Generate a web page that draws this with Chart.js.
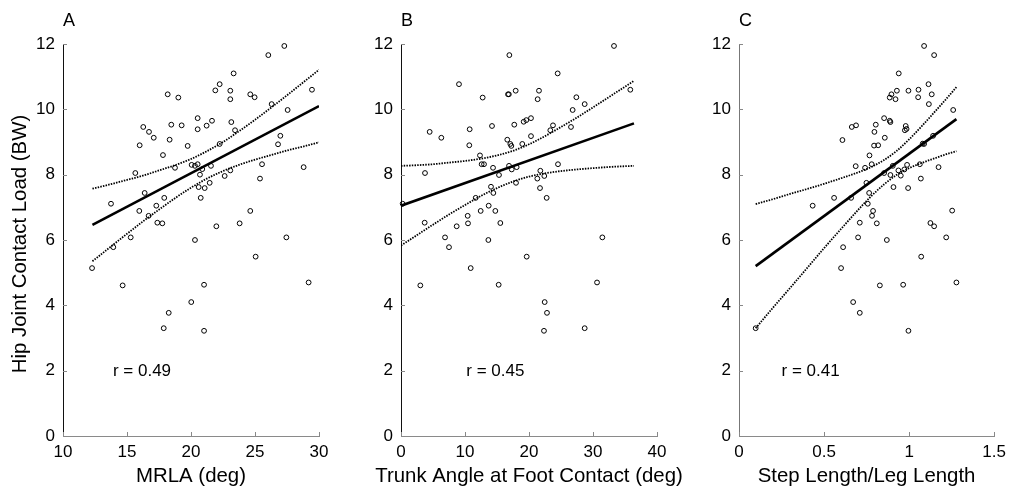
<!DOCTYPE html>
<html>
<head>
<meta charset="utf-8">
<script src="https://cdn.jsdelivr.net/npm/chart.js@4.4.1/dist/chart.umd.min.js"></script>
<style>
  body { margin: 0; background: #fff; }
  #wrap { position: relative; width: 1012px; height: 491px; overflow: hidden; }
  canvas { position: absolute; top: 0; }
</style>
</head>
<body>
<div id="wrap">
  <canvas id="panelA" width="345" height="491" style="left:0px"></canvas>
  <canvas id="panelB" width="345" height="491" style="left:345px"></canvas>
  <canvas id="panelC" width="322" height="491" style="left:690px"></canvas>
</div>
<script>
// hip joint contact load (BW), same subjects in every panel
var loadA = [11.94, 11.66, 11.10, 10.77, 10.58, 10.57, 10.31, 10.46, 10.36, 10.46, 10.37, 10.60, 10.16, 9.98, 9.73, 9.46, 9.31, 9.13, 9.53, 9.51, 9.39, 9.50, 9.65, 9.61, 9.36, 9.07, 8.90, 8.88, 8.94, 9.19, 8.93, 8.60, 8.21, 8.30, 8.27, 8.32, 8.17, 8.00, 8.27, 8.13, 7.96, 8.32, 7.88, 8.23, 8.05, 7.62, 7.59, 7.75, 7.29, 7.44, 7.29, 7.11, 6.89, 7.05, 6.74, 6.53, 6.51, 6.42, 6.51, 6.89, 6.08, 6.00, 6.08, 5.78, 5.14, 4.61, 5.49, 4.70, 4.63, 4.10, 3.77, 3.30, 3.22];
var mrla = [27.29, 26.04, 23.33, 22.24, 21.90, 23.07, 23.07, 18.18, 19.01, 24.63, 24.97, 29.45, 26.30, 27.55, 20.52, 16.27, 16.72, 17.09, 18.46, 19.27, 20.52, 21.22, 21.64, 23.15, 23.44, 18.33, 15.99, 19.74, 22.24, 26.98, 26.80, 17.81, 18.75, 20.05, 20.31, 20.52, 20.88, 20.70, 21.56, 23.07, 22.63, 25.55, 25.39, 28.80, 15.65, 20.60, 21.07, 21.46, 20.76, 16.38, 17.91, 13.75, 15.96, 17.29, 16.69, 17.37, 17.76, 21.98, 23.80, 24.63, 15.29, 20.31, 27.45, 13.93, 12.27, 14.66, 25.05, 29.19, 21.02, 20.02, 18.26, 17.87, 21.02];

var loadB = [11.94, 11.66, 11.10, 10.77, 10.36, 10.46, 10.46, 10.57, 10.57, 10.31, 10.37, 10.16, 9.98, 10.60, 9.73, 9.67, 9.62, 9.53, 9.49, 9.39, 9.31, 9.13, 9.51, 9.36, 9.46, 9.18, 9.07, 8.94, 8.88, 8.94, 8.90, 8.59, 8.32, 8.32, 8.21, 8.27, 8.16, 8.23, 7.99, 8.32, 8.12, 7.88, 7.96, 7.75, 7.59, 7.29, 7.63, 7.44, 7.29, 7.05, 6.89, 6.89, 6.74, 6.51, 6.42, 6.52, 6.53, 8.05, 7.11, 6.08, 6.00, 6.08, 5.78, 4.61, 5.14, 5.49, 4.63, 4.10, 3.77, 3.22, 3.30, 4.70];
var trunkAngle = [33.28, 16.93, 24.48, 9.06, 12.76, 16.72, 16.85, 17.92, 21.56, 21.35, 27.40, 28.70, 26.82, 35.83, 20.31, 19.58, 19.17, 17.70, 14.22, 10.73, 4.48, 6.30, 23.75, 23.33, 26.56, 20.31, 16.61, 17.08, 17.24, 18.95, 10.67, 12.34, 12.60, 12.97, 14.38, 16.88, 17.30, 18.07, 15.31, 24.53, 21.77, 21.30, 22.39, 17.97, 21.72, 22.76, 14.06, 14.43, 11.67, 13.70, 14.74, 12.45, 10.42, 10.47, 8.70, 15.52, 3.70, 3.75, 0.26, 6.88, 13.65, 31.46, 7.50, 3.02, 10.89, 19.64, 15.26, 22.45, 22.81, 22.34, 28.70, 30.63];

var loadC = [11.94, 11.66, 11.10, 10.77, 10.46, 10.57, 10.60, 10.37, 10.57, 10.46, 10.36, 10.31, 10.16, 9.98, 9.73, 9.65, 9.61, 9.49, 9.40, 9.36, 9.53, 9.46, 9.51, 9.31, 9.13, 9.06, 8.89, 8.90, 8.94, 8.95, 9.19, 8.59, 8.26, 8.21, 8.32, 8.27, 8.05, 7.99, 8.13, 7.97, 8.16, 8.30, 8.32, 8.23, 7.88, 7.62, 7.59, 7.75, 7.44, 7.11, 7.29, 7.29, 7.05, 6.89, 6.74, 6.51, 6.53, 6.90, 6.52, 6.42, 6.08, 6.00, 6.08, 5.78, 3.30, 5.14, 4.61, 4.63, 5.49, 4.70, 4.10, 3.77, 3.22];
var stepRatio = [1.088, 1.147, 0.939, 1.114, 1.133, 0.996, 1.055, 1.053, 0.928, 0.896, 0.886, 0.920, 1.116, 1.259, 0.853, 0.886, 0.890, 0.980, 0.985, 0.975, 0.804, 0.663, 0.688, 0.796, 0.857, 0.608, 0.794, 0.818, 1.088, 1.080, 1.141, 0.767, 0.686, 0.741, 0.780, 0.904, 0.853, 0.890, 0.937, 0.951, 0.972, 0.988, 1.063, 1.173, 1.069, 0.908, 0.994, 0.749, 0.765, 0.757, 0.659, 0.559, 0.433, 0.788, 0.782, 0.810, 0.710, 1.253, 1.125, 1.147, 0.700, 0.869, 1.218, 0.612, 0.098, 0.600, 0.828, 0.965, 1.071, 1.278, 0.671, 0.710, 0.996];

// regression lines (end points) and 95% bands
var fitAx = [12.3, 30], fitAy = [6.46, 10.10];
var bandAx = [12.3, 13.65, 15, 16.25, 17.5, 18.75, 20, 21.2, 22.5, 23.75, 25, 26.25, 27.5, 28.75, 30];
var upperA = [7.57, 7.70, 7.84, 7.97, 8.13, 8.29, 8.48, 8.71, 9.00, 9.33, 9.68, 10.05, 10.43, 10.82, 11.21];
var lowerA = [5.35, 5.77, 6.19, 6.57, 6.93, 7.28, 7.60, 7.87, 8.11, 8.30, 8.46, 8.60, 8.74, 8.86, 8.99];

var fitBx = [0, 36.4], fitBy = [7.05, 9.57];
var bandBx = [0, 2.5, 5, 7.5, 10, 12.5, 15, 17.5, 20, 22.5, 25, 27.5, 30, 33, 36.4];
var upperB = [8.27, 8.29, 8.32, 8.37, 8.42, 8.49, 8.59, 8.73, 8.93, 9.18, 9.46, 9.75, 10.06, 10.44, 10.87];
var lowerB = [5.83, 6.15, 6.47, 6.78, 7.07, 7.35, 7.59, 7.79, 7.94, 8.04, 8.11, 8.16, 8.20, 8.24, 8.27];

var fitCx = [0.098, 1.278], fitCy = [5.20, 9.70];
var bandCx = [0.098, 0.2, 0.3, 0.4, 0.5, 0.6, 0.7, 0.775, 0.85, 0.925, 1.0, 1.075, 1.15, 1.215, 1.278];
var upperC = [7.10, 7.25, 7.41, 7.56, 7.72, 7.89, 8.07, 8.23, 8.44, 8.72, 9.08, 9.49, 9.92, 10.30, 10.68];
var lowerC = [3.30, 3.93, 4.53, 5.14, 5.75, 6.34, 6.92, 7.33, 7.69, 7.99, 8.20, 8.36, 8.50, 8.62, 8.72];

var yTicks = [0, 2, 4, 6, 8, 10, 12];

Chart.defaults.font.family = '"Liberation Sans", Arial, sans-serif';
Chart.defaults.color = '#000';

function pts(xs, ys) {
  return xs.map(function (x, i) { return { x: x, y: ys[i] }; });
}

// panel letter, r value, axis titles and inward tick marks
var extras = {
  id: 'extras',
  afterDraw: function (chart) {
    var o = chart.options.plugins.extras;
    var ctx = chart.ctx, a = chart.chartArea;
    var sx = chart.scales.x, sy = chart.scales.y;
    ctx.save();
    ctx.strokeStyle = '#888';
    ctx.lineWidth = 1;
    sx.ticks.forEach(function (t) {
      var px = Math.round(sx.getPixelForValue(t.value)) + 0.5;
      ctx.beginPath(); ctx.moveTo(px, a.bottom); ctx.lineTo(px, a.bottom - 4); ctx.stroke();
    });
    sy.ticks.forEach(function (t) {
      var py = Math.round(sy.getPixelForValue(t.value)) + 0.5;
      ctx.beginPath(); ctx.moveTo(a.left, py); ctx.lineTo(a.left + 4, py); ctx.stroke();
    });
    ctx.fillStyle = '#000';
    ctx.font = '18px "Liberation Sans", Arial, sans-serif';
    ctx.textAlign = 'left'; ctx.textBaseline = 'alphabetic';
    ctx.fillText(o.letter, a.left, 26);
    ctx.font = '17px "Liberation Sans", Arial, sans-serif';
    ctx.textBaseline = 'middle';
    ctx.fillText(o.rText, sx.getPixelForValue(o.rAt), sy.getPixelForValue(2) + 1);
    ctx.font = '20.4px "Liberation Sans", Arial, sans-serif';
    ctx.textAlign = 'center'; ctx.textBaseline = 'alphabetic';
    ctx.fillText(o.xTitle, (a.left + a.right) / 2, 482);
    if (o.yTitle) {
      ctx.translate(20, 244);
      ctx.rotate(-Math.PI / 2);
      ctx.textBaseline = 'middle';
      ctx.fillText(o.yTitle, 0, 0);
    }
    ctx.restore();
  }
};

function makePanel(id, cfg) {
  return new Chart(document.getElementById(id), {
    type: 'scatter',
    plugins: [extras],
    data: {
      datasets: [{
        data: pts(cfg.xs, cfg.ys),
        pointStyle: 'circle',
        pointRadius: 2.4,
        pointBorderWidth: 1,
        borderColor: '#000',
        backgroundColor: 'rgba(255,255,255,0)',
        showLine: false,
        clip: false
      }, {
        data: pts(cfg.fitX, cfg.fitY),
        showLine: true,
        pointRadius: 0,
        borderColor: '#000',
        borderWidth: 2.6
      }, {
        data: pts(cfg.bandX, cfg.upper),
        showLine: true,
        pointRadius: 0,
        borderColor: '#000',
        borderWidth: 1.8,
        borderDash: [1.5, 1.2],
        cubicInterpolationMode: 'monotone'
      }, {
        data: pts(cfg.bandX, cfg.lower),
        showLine: true,
        pointRadius: 0,
        borderColor: '#000',
        borderWidth: 1.8,
        borderDash: [1.5, 1.2],
        cubicInterpolationMode: 'monotone'
      }]
    },
    options: {
      responsive: false,
      animation: false,
      layout: { padding: { left: 0, top: 44, right: cfg.padRight, bottom: 0 } },
      plugins: {
        legend: { display: false },
        tooltip: { enabled: false },
        extras: cfg.text
      },
      scales: {
        x: {
          type: 'linear',
          min: cfg.xMin, max: cfg.xMax,
          grid: { display: false, drawTicks: false },
          border: { display: true, color: '#8a8a8a', width: 1 },
          ticks: {
            stepSize: cfg.xStep,
            padding: 6,
            font: { size: 17 },
            color: '#000',
            callback: function (v) { return v; }
          },
          afterFit: function (s) { s.height = 55; }
        },
        y: {
          type: 'linear',
          min: 0, max: 12,
          grid: { display: false, drawTicks: false },
          border: { display: true, color: cfg.yAxisColor, width: 1 },
          afterBuildTicks: function (s) { s.ticks = yTicks.map(function (v) { return { value: v }; }); },
          ticks: {
            padding: 8,
            font: { size: 17 },
            color: '#000'
          },
          afterFit: function (s) { s.width = cfg.left; }
        }
      }
    }
  });
}

makePanel('panelA', {
  xs: mrla, ys: loadA, fitX: fitAx, fitY: fitAy, bandX: bandAx, upper: upperA, lower: lowerA,
  xMin: 10, xMax: 30, xStep: 5, left: 63, padRight: 26, yAxisColor: '#111',
  text: { letter: 'A', rText: 'r = 0.49', rAt: 13.9, xTitle: 'MRLA (deg)', yTitle: 'Hip Joint Contact Load (BW)' }
});
makePanel('panelB', {
  xs: trunkAngle, ys: loadB, fitX: fitBx, fitY: fitBy, bandX: bandBx, upper: upperB, lower: lowerB,
  xMin: 0, xMax: 40, xStep: 10, left: 56, padRight: 33, yAxisColor: '#111',
  text: { letter: 'B', rText: 'r = 0.45', rAt: 10.2, xTitle: 'Trunk Angle at Foot Contact (deg)' }
});
makePanel('panelC', {
  xs: stepRatio, ys: loadC, fitX: fitCx, fitY: fitCy, bandX: bandCx, upper: upperC, lower: lowerC,
  xMin: 0, xMax: 1.5, xStep: 0.5, left: 49, padRight: 17, yAxisColor: '#777',
  text: { letter: 'C', rText: 'r = 0.41', rAt: 0.25, xTitle: 'Step Length/Leg Length' }
});
</script>
</body>
</html>
